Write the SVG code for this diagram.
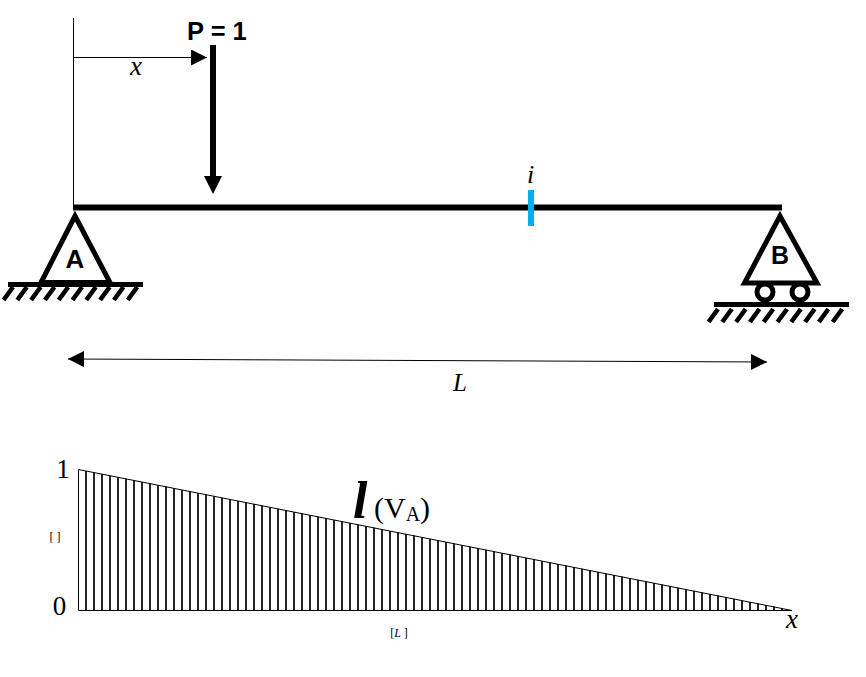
<svg xmlns="http://www.w3.org/2000/svg" width="866" height="677" viewBox="0 0 866 677">
<style>
.m{font-family:"Liberation Serif","Times New Roman",serif;fill:#000}
.i{font-style:italic}
.s{font-family:"Liberation Sans",Arial,sans-serif;font-weight:bold;fill:#000}
.thin{stroke:#000;stroke-width:1;fill:none}
.tri{stroke:#000;stroke-width:5;fill:none;stroke-linejoin:miter}
.hatch{stroke:#000;stroke-width:4.6;fill:none}
.gl{stroke:#000;stroke-width:5;fill:none}
.hl{stroke:#000;stroke-width:1.7}
</style>
<defs>
<marker id="ah" markerUnits="userSpaceOnUse" markerWidth="16" markerHeight="16" refX="16" refY="8" orient="auto-start-reverse" viewBox="0 0 16 16"><path d="M0 0L16 8L0 16Z" fill="#000"/></marker>
<marker id="ahb" markerUnits="userSpaceOnUse" markerWidth="18" markerHeight="18" refX="0" refY="9" orient="auto" viewBox="0 0 18 18"><path d="M0 0L18 9L0 18Z" fill="#000"/></marker>
<g id="hatchset"><path class="hatch" d="M3.500 300L13 287M17.300 300L26.800 287M31.100 300L40.600 287M44.900 300L54.400 287M58.700 300L68.200 287M72.500 300L82 287M86.300 300L95.800 287M100.100 300L109.600 287M113.900 300L123.400 287M127.700 300L137.200 287"/></g>
</defs>
<g id="connectors">
<line class="thin" x1="73.500" y1="18" x2="73.500" y2="207"/>
<line class="thin" x1="73.500" y1="57.500" x2="207" y2="57.500" marker-end="url(#ah)"/>
<line x1="213" y1="45" x2="213" y2="176" stroke="#000" stroke-width="6" marker-end="url(#ahb)"/>
<line class="thin" x1="68" y1="359" x2="767" y2="362" marker-start="url(#ah)" marker-end="url(#ah)"/>
</g>
<g id="beam"><line x1="73" y1="207.500" x2="782" y2="207.500" stroke="#000" stroke-width="6"/></g>
<g id="section-i"><rect x="528" y="190" width="6" height="36" fill="#00B0F0"/><text class="m i" x="530.500" y="183" font-size="26" text-anchor="middle">i</text></g>
<g id="load"><text class="s" x="187" y="40" font-size="25.500">P = 1</text></g>
<g id="label-x"><text class="m i" x="136" y="75" font-size="27" text-anchor="middle">x</text></g>
<g id="support-A">
<path class="tri" d="M75 216L41 282.500H110Z"/>
<line class="gl" x1="8" y1="284.500" x2="143" y2="284.500"/>
<use href="#hatchset"/>
<text class="s" x="75" y="268" font-size="26" text-anchor="middle">A</text>
</g>
<g id="support-B">
<path class="tri" d="M780 216L744.500 283H817Z"/>
<circle class="tri" cx="765" cy="292" r="8"/>
<circle class="tri" cx="800" cy="292" r="8"/>
<line class="gl" x1="714" y1="304.500" x2="849" y2="304.500"/>
<use href="#hatchset" x="705" y="22"/>
<text class="s" x="780" y="264" font-size="25" text-anchor="middle">B</text>
</g>
<g id="label-L"><text class="m i" x="460" y="391" font-size="25" text-anchor="middle">L</text></g>
<g id="influence-line">
<path class="thin" d="M78.500 610.500V469.500L792 610.500Z" stroke-width="1.200"/>
<path class="hl" d="M86 610V471M94 610V472.500M102 610V474M110 610V475.700M118 610V477.300M126 610V478.800M134 610V480.400M142 610V482M150 610V483.600M158 610V485.200M166 610V486.700M174 610V488.300M182 610V489.900M190 610V491.500M198 610V493M206 610V494.600M214 610V496.200M222 610V497.800M230 610V499.300M238 610V500.900M246 610V502.500M254 610V504.100M262 610V505.700M270 610V507.200M278 610V508.800M286 610V510.400M294 610V512M302 610V513.500M310 610V515.100M318 610V516.700M326 610V518.300M334 610V519.900M342 610V521.400M350 610V523M358 610V524.600M366 610V526.200M374 610V527.700M382 610V529.300M390 610V530.900M398 610V532.500M406 610V534M414 610V535.600M422 610V537.200M430 610V538.800M438 610V540.400M446 610V541.900M454 610V543.500M462 610V545.100M470 610V546.700M478 610V548.200M486 610V549.800M494 610V551.400M502 610V553M510 610V554.600M518 610V556.100M526 610V557.700M534 610V559.300M542 610V560.900M550 610V562.400M558 610V564M566 610V565.600M574 610V567.200M582 610V568.800M590 610V570.300M598 610V571.900M606 610V573.500M614 610V575.100M622 610V576.600M630 610V578.200M638 610V579.800M646 610V581.400M654 610V582.900M662 610V584.500M670 610V586.100M678 610V587.700M686 610V589.300M694 610V590.800M702 610V592.400M710 610V594M718 610V595.600M726 610V597.100M734 610V598.700M742 610V600.300M750 610V601.900M758 610V603.500M766 610V605M774 610V606.600M782 610V608.200"/>
<text class="m" x="63" y="478" font-size="27" text-anchor="middle">1</text>
<text class="m" x="59.500" y="615" font-size="27" text-anchor="middle">0</text>
<text class="m" x="55" y="541" font-size="12" text-anchor="middle">[ ]</text>
<text class="m" x="399" y="637" font-size="12" text-anchor="middle">[<tspan class="i">L</tspan> ]</text>
<text class="m i" x="792" y="628" font-size="27" text-anchor="middle">x</text>
<text class="m i" x="353" y="518" font-size="52" font-weight="bold">l</text>
<text class="m" x="374" y="518" font-size="30">(V<tspan font-size="20" dy="3">A</tspan><tspan dy="-3">)</tspan></text>
</g>
</svg>
